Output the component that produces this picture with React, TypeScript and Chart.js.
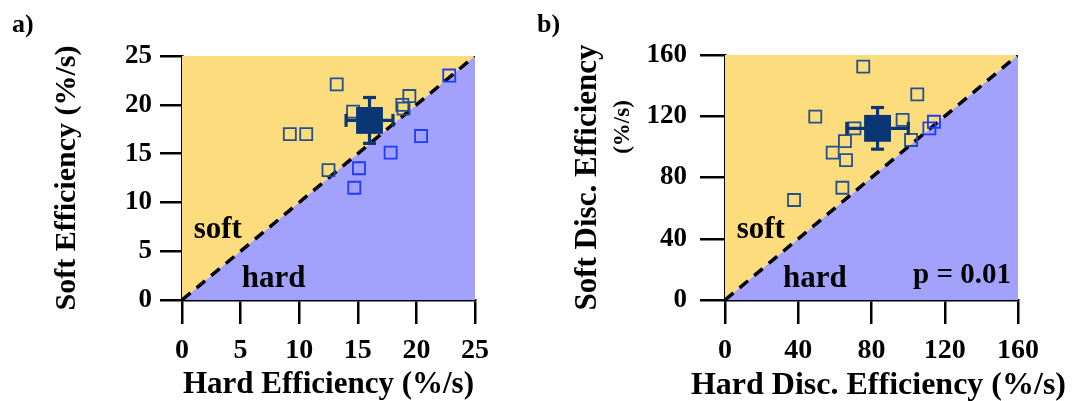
import React, { useEffect, useRef } from 'react';
import { Chart, registerables } from 'chart.js';

Chart.register(...registerables);

const FONT = "'Liberation Serif', 'Times New Roman', serif";

// ---- Panel a) data ----
const hardEffA = [13.2, 22.8, 19.4, 18.8, 18.9, 14.6, 9.2, 10.6, 20.4, 17.8, 12.5, 15.1, 14.7];
const softEffA = [22.1, 23.0, 20.9, 20.0, 19.6, 19.3, 17.0, 17.0, 16.8, 15.1, 13.3, 13.5, 11.5];
const meanA = [16.0, 18.4]; // [hard, soft]
const errA = [2.0, 2.35]; // [hard, soft]
const ticksA = [0, 5, 10, 15, 20, 25];

// ---- Panel b) data ----
const hardDiscB = [75.5, 105, 49.3, 97, 114.1, 70.7, 111.6, 101.6, 65.5, 58.8, 66.1, 64.1, 37.7];
const softDiscB = [152.4, 134.3, 119.7, 117.6, 116.4, 112.1, 112.1, 104.5, 103.8, 96.2, 91.4, 73.3, 65.3];
const meanB = [83.3, 112.1];
const errB = [16.8, 13.6];
const ticksB = [0, 40, 80, 120, 160];

const YELLOW = '#FDDC7E';
const PURPLE = '#A2A2FC';
const DARK = '#23508E';
const BRIGHT = '#1E3BFF';
const NAVY = '#0A3774';

type Note = { text: string; x: number; y: number; size: number };

type PanelProps = {
  label: string;
  xTitle: string;
  xTitleManual?: boolean;
  yTitle: string;
  yTitle2?: string;
  hard: number[];
  soft: number[];
  mean: number[];
  err: number[];
  ticks: number[];
  notes: Note[];
  left: number;
  width: number;
  yWidth: number;
  rightPad: number;
  topPad: number;
  yTickLen: number;
  yTickPad: number;
  xTickLen: number;
  xTickPad: number;
  yTitleSize: number;
  yTitlePad: number;
  xTitlePad: number;
  labelX: number;
  title2X?: number;
  title2Y?: number;
};

function Panel(p: PanelProps) {
  const ref = useRef<HTMLCanvasElement | null>(null);
  useEffect(() => {
    const canvas = ref.current;
    if (!canvas) return;
    const lo = p.ticks[0];
    const hi = p.ticks[p.ticks.length - 1];
    const diag = [
      { x: lo, y: lo },
      { x: hi, y: hi },
    ];
    const pts = p.hard.map((h, i) => ({ x: h, y: p.soft[i] }));
    const thr = hi * 0.015;
    const [mh, ms] = p.mean;
    const [eh, es] = p.err;

    const textPlugin = {
      id: 'panelText',
      afterDatasetsDraw(chart: any) {
        const { ctx, chartArea } = chart;
        const xs = chart.scales.x;
        const ys = chart.scales.y;
        ctx.save();
        ctx.fillStyle = '#000';
        ctx.textAlign = 'left';
        ctx.textBaseline = 'alphabetic';
        for (const n of p.notes) {
          ctx.font = `bold ${n.size}px ${FONT}`;
          ctx.fillText(n.text, xs.getPixelForValue(n.x), ys.getPixelForValue(n.y));
        }
        ctx.font = `bold 26px ${FONT}`;
        ctx.fillText(p.label, p.labelX, 32);
        if (p.xTitleManual) {
          ctx.textAlign = 'center';
          ctx.font = `bold 32px ${FONT}`;
          ctx.fillText(p.xTitle, (chartArea.left + chartArea.right) / 2 + 7, 394);
        }
        if (p.yTitle2) {
          ctx.translate(p.title2X as number, p.title2Y as number);
          ctx.rotate(-Math.PI / 2);
          ctx.textAlign = 'center';
          ctx.textBaseline = 'middle';
          ctx.font = `bold 23px ${FONT}`;
          ctx.fillText(p.yTitle2, 0, 0);
        }
        ctx.restore();
      },
    };

    const chart = new Chart(canvas, {
      type: 'scatter',
      data: {
        datasets: [
          { type: 'line', data: diag, fill: 'end', backgroundColor: YELLOW, borderWidth: 0, pointRadius: 0, order: 10 } as any,
          { type: 'line', data: diag, fill: 'start', backgroundColor: PURPLE, borderWidth: 0, pointRadius: 0, order: 9 } as any,
          { type: 'line', data: diag, fill: false, borderColor: '#000', borderWidth: 3.5, borderDash: [11, 8], pointRadius: 0, order: 8 } as any,
          {
            type: 'scatter',
            data: pts,
            pointStyle: 'rect',
            pointRadius: 8.5,
            pointBackgroundColor: 'rgba(0,0,0,0)',
            pointBorderColor: (c: any) => {
              const r = c.raw;
              return r && r.y - r.x > thr ? DARK : BRIGHT;
            },
            pointBorderWidth: 1.8,
            order: 5,
          } as any,
          {
            type: 'line',
            data: [
              { x: mh - eh, y: ms },
              { x: mh + eh, y: ms },
            ],
            borderColor: NAVY,
            borderWidth: 3.2,
            fill: false,
            pointStyle: 'line',
            pointRotation: 90,
            pointRadius: 6.5,
            pointBorderWidth: 3.2,
            pointBorderColor: NAVY,
            order: 3,
          } as any,
          {
            type: 'line',
            data: [
              { x: mh, y: ms - es },
              { x: mh, y: ms + es },
            ],
            borderColor: NAVY,
            borderWidth: 3.2,
            fill: false,
            pointStyle: 'line',
            pointRotation: 0,
            pointRadius: 6.5,
            pointBorderWidth: 3.2,
            pointBorderColor: NAVY,
            order: 3,
          } as any,
          {
            type: 'scatter',
            data: [{ x: mh, y: ms }],
            pointStyle: 'rect',
            pointRadius: 19,
            pointBackgroundColor: NAVY,
            pointBorderColor: NAVY,
            pointBorderWidth: 0,
            order: 1,
          } as any,
        ],
      },
      options: {
        animation: false,
        responsive: false,
        maintainAspectRatio: false,
        events: [],
        layout: { padding: { left: 0, top: p.topPad, right: p.rightPad, bottom: 0 } },
        plugins: {
          legend: { display: false },
          tooltip: { enabled: false },
          filler: { drawTime: 'beforeDatasetsDraw' },
        } as any,
        scales: {
          x: {
            type: 'linear',
            min: lo,
            max: hi,
            afterBuildTicks: (s: any) => {
              s.ticks = p.ticks.map((v) => ({ value: v }));
            },
            afterFit: (s: any) => {
              s.height = 101;
            },
            grid: { drawOnChartArea: false, drawTicks: true, tickLength: p.xTickLen, color: '#000', lineWidth: 2.5 },
            border: { display: true, color: '#000', width: 2.5 },
            ticks: {
              color: '#000',
              autoSkip: false,
              maxRotation: 0,
              padding: p.xTickPad,
              font: { family: FONT, size: 28, weight: 'bold', lineHeight: 1.2 },
            },
            title: {
              display: !p.xTitleManual,
              text: p.xTitle,
              color: '#000',
              font: { family: FONT, size: 31, weight: 'bold', lineHeight: 1 },
              padding: { top: 0, bottom: p.xTitlePad },
            },
          } as any,
          y: {
            type: 'linear',
            min: lo,
            max: hi,
            afterBuildTicks: (s: any) => {
              s.ticks = p.ticks.map((v) => ({ value: v }));
            },
            afterFit: (s: any) => {
              s.width = p.yWidth;
            },
            grid: { drawOnChartArea: false, drawTicks: true, tickLength: p.yTickLen, color: '#000', lineWidth: 2.5 },
            border: { display: true, color: '#000', width: 2.5 },
            ticks: {
              color: '#000',
              autoSkip: false,
              padding: p.yTickPad,
              font: { family: FONT, size: 27, weight: 'bold', lineHeight: 1.2 },
            },
            title: {
              display: true,
              text: p.yTitle,
              color: '#000',
              font: { family: FONT, size: p.yTitleSize, weight: 'bold', lineHeight: 1 },
              padding: { top: p.yTitlePad, bottom: 0 },
            },
          } as any,
        },
      },
      plugins: [textPlugin as any],
    });
    return () => chart.destroy();
  }, []);

  return (
    <canvas
      ref={ref}
      width={p.width}
      height={401}
      style={{ position: 'absolute', left: p.left, top: 0, width: p.width, height: 401 }}
    />
  );
}

export default function App() {
  return (
    <div style={{ position: 'absolute', left: 0, top: 0, width: 1083, height: 401, background: '#fff', overflow: 'hidden' }}>
      <Panel
        label="a)"
        xTitle="Hard Efficiency (%/s)"
        yTitle="Soft Efficiency (%/s)"
        hard={hardEffA}
        soft={softEffA}
        mean={meanA}
        err={errA}
        ticks={ticksA}
        notes={[
          { text: 'soft', x: 1.0, y: 6.35, size: 31 },
          { text: 'hard', x: 5.1, y: 1.33, size: 31 },
        ]}
        left={0}
        width={530}
        yWidth={182}
        rightPad={55}
        topPad={56}
        yTickLen={22}
        yTickPad={8}
        xTickLen={24}
        xTickPad={10}
        yTitleSize={30}
        yTitlePad={52}
        xTitlePad={1}
        labelX={12}
      />
      <Panel
        label="b)"
        xTitle="Hard Disc. Efficiency (%/s)"
        xTitleManual={true}
        yTitle="Soft Disc. Efficiency"
        yTitle2="(%/s)"
        hard={hardDiscB}
        soft={softDiscB}
        mean={meanB}
        err={errB}
        ticks={ticksB}
        notes={[
          { text: 'soft', x: 6.4, y: 40.5, size: 31 },
          { text: 'hard', x: 31.7, y: 8.5, size: 31 },
          { text: 'p = 0.01', x: 102.7, y: 11.4, size: 29 },
        ]}
        left={530}
        width={553}
        yWidth={195}
        rightPad={65}
        topPad={55}
        yTickLen={25}
        yTickPad={13}
        xTickLen={24}
        xTickPad={10}
        yTitleSize={31}
        yTitlePad={42}
        xTitlePad={-2}
        labelX={7}
        title2X={93}
        title2Y={127}
      />
    </div>
  );
}
